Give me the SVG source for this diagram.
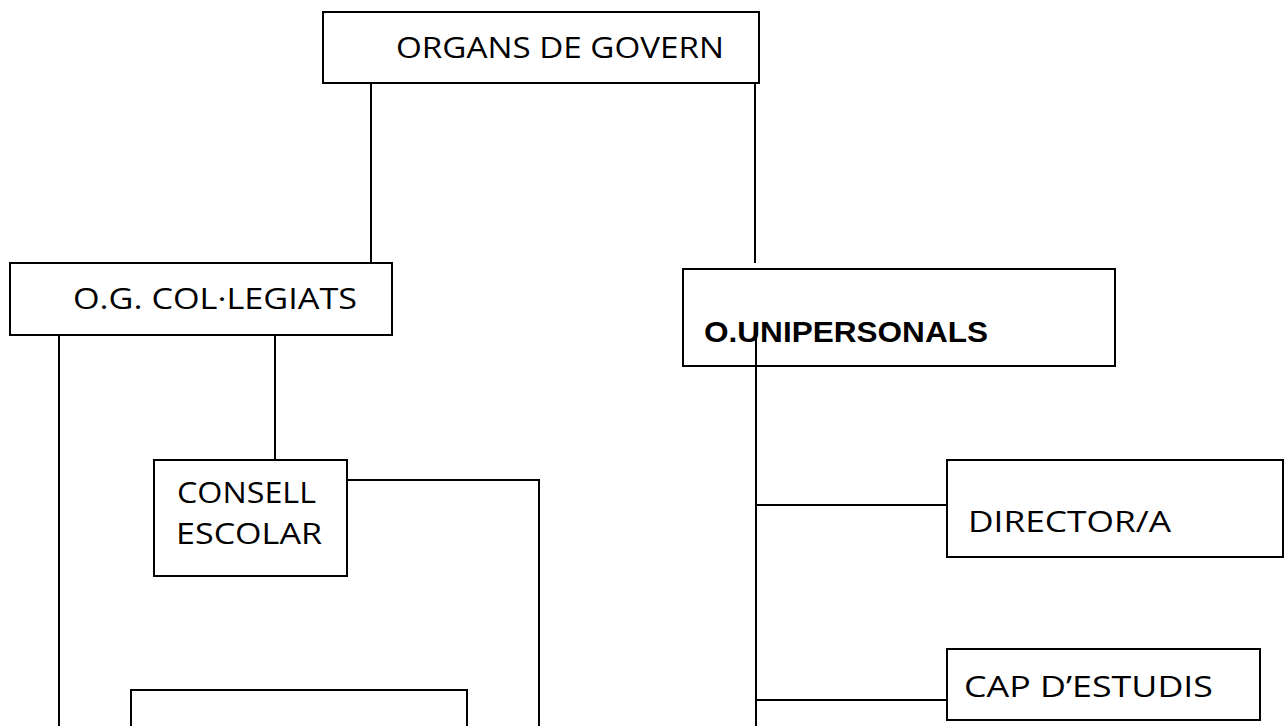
<svg xmlns="http://www.w3.org/2000/svg" width="1287" height="726" viewBox="0 0 1287 726">
<style>
.box{fill:#fff;stroke:#000;stroke-width:2}
.ln{fill:none;stroke:#000;stroke-width:2}
.t{font-family:"Open Sans","DejaVu Sans",sans-serif;font-size:29px;fill:#000}
.b{font-family:"Liberation Sans",Arial,sans-serif;font-size:30px;font-weight:bold;fill:#000}
</style>
<rect width="1287" height="726" fill="#fff"/>
<g id="organs"><rect class="box" x="323" y="12" width="436" height="71"/><text class="t" x="396" y="58" textLength="328" lengthAdjust="spacingAndGlyphs">ORGANS DE GOVERN</text></g>
<g id="collegiats"><rect class="box" x="10" y="263" width="382" height="72"/><text class="t" x="73" y="309" textLength="284" lengthAdjust="spacingAndGlyphs">O.G. COL·LEGIATS</text></g>
<g id="unipersonals"><rect class="box" x="683" y="269" width="432" height="97"/><text class="b" x="704" y="342" textLength="284" lengthAdjust="spacingAndGlyphs">O.UNIPERSONALS</text></g>
<g id="consell"><rect class="box" x="154" y="460" width="193" height="116"/><text class="t" x="177" y="503" textLength="139" lengthAdjust="spacingAndGlyphs">CONSELL</text><text class="t" x="176" y="544" textLength="146" lengthAdjust="spacingAndGlyphs">ESCOLAR</text></g>
<g id="director"><rect class="box" x="947" y="460" width="336" height="97"/><text class="t" x="968" y="532" textLength="203" lengthAdjust="spacingAndGlyphs">DIRECTOR/A</text></g>
<g id="capestudis"><rect class="box" x="947" y="649" width="313" height="71"/><text class="t" x="964" y="697" textLength="249" lengthAdjust="spacingAndGlyphs">CAP D’ESTUDIS</text></g>
<g id="bottombox"><rect class="box" x="131" y="690" width="336" height="60"/></g>
<g id="connectors">
<line class="ln" x1="371" y1="83" x2="371" y2="263"/>
<line class="ln" x1="755" y1="83" x2="755" y2="263"/>
<line class="ln" x1="59" y1="335" x2="59" y2="726"/>
<line class="ln" x1="275" y1="335" x2="275" y2="460"/>
<polyline class="ln" points="347,480 539,480 539,726"/>
<line class="ln" x1="756" y1="335" x2="756" y2="726"/>
<line class="ln" x1="756" y1="505" x2="947" y2="505"/>
<line class="ln" x1="756" y1="700" x2="947" y2="700"/>
</g>
</svg>
